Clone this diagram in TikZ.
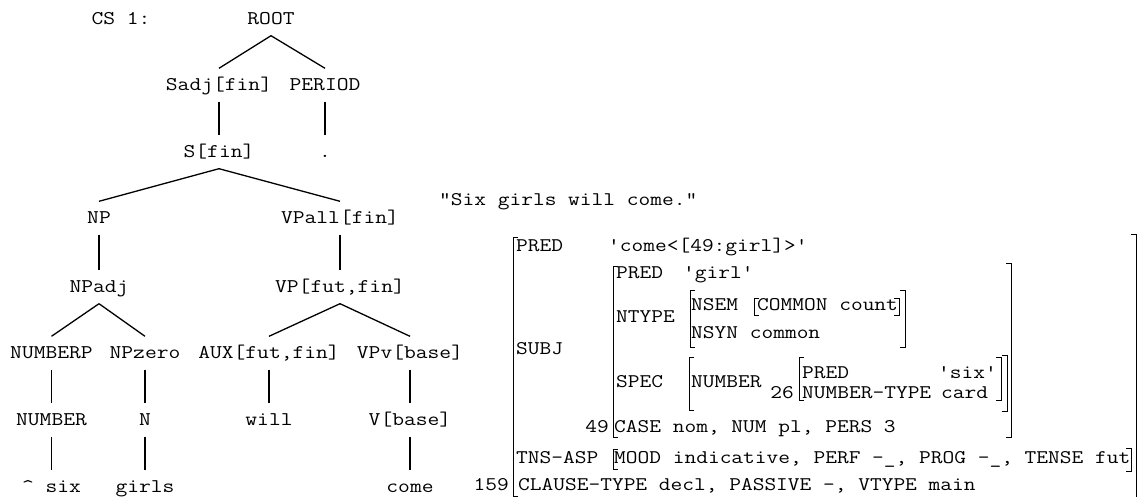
\documentclass[tikz,border=0pt]{standalone}
\usepackage{fontspec}
\setmonofont{Latin Modern Mono}[FakeStretch=1.18]
\begin{document}
\begin{tikzpicture}[x=1pt,y=-1pt,
    tree/.style={font=\ttfamily\fontsize{19.4}{24}\selectfont, inner sep=0pt,
      text height=11.8pt, text depth=0pt, minimum height=33pt},
    fs/.style={font=\ttfamily\fontsize{19.3}{24}\selectfont, inner sep=0pt,
      text height=11.8pt, text depth=0pt, anchor=west},
    brk/.style={line width=0.9pt}]
  \useasboundingbox (0,0) rectangle (1137,497);
  % c-structure
  \draw[every node/.style=tree]
    (121,19) node (cs){CS 1:}
    (271,19) node (root){ROOT}
    (219,85) node (sadj){Sadj[fin]}
    (325,85) node (period){PERIOD}
    (219,152) node (sfin){S[fin]}
    (325,152) node (dot){.}
    (99,218) node (np){NP}
    (340,218) node (vpall){VPall[fin]}
    (99,287) node (npadj){NPadj}
    (340,287) node (vp){VP[fut,fin]}
    (51.5,353) node (numberp){NUMBERP}
    (145,353) node (npzero){NPzero}
    (269,353) node (aux){AUX[fut,fin]}
    (410,353) node (vpv){VPv[base]}
    (51.5,420) node (number){NUMBER}
    (145,420) node (n){N}
    (269,420) node (will){will}
    (410,420) node (vbase){V[base]}
    (51.5,487) node (six){\textasciicircum{} six}
    (145,487) node (girls){girls}
    (410,487) node (come){come};
  \begin{scope}[-, line width=1.3pt]
    \draw (root.south) to (sadj.north);
    \draw (root.south) to (period.north);
    \draw (sadj.south) to (sfin.north);
    \draw (period.south) to (dot.north);
    \draw (sfin.south) to (np.north);
    \draw (sfin.south) to (vpall.north);
    \draw (np.south) to (npadj.north);
    \draw (vpall.south) to (vp.north);
    \draw (npadj.south) to (numberp.north);
    \draw (npadj.south) to (npzero.north);
    \draw (vp.south) to (aux.north);
    \draw (vp.south) to (vpv.north);
    \draw (numberp.south) to (number.north);
    \draw (npzero.south) to (n.north);
    \draw (aux.south) to (will.north);
    \draw (vpv.south) to (vbase.north);
    \draw (number.south) to (six.north);
    \draw (n.south) to (girls.north);
    \draw (vbase.south) to (come.north);
  \end{scope}
  % f-structure
  \draw[every node/.style=fs]
    (439,200) node (sent){"Six girls will come."}
    (516,246) node (pred){PRED}
    (608,246) node (predval){'come<[49:girl]>'}
    (516,349) node (subj){SUBJ}
    (616,273) node (spred){PRED}
    (683,273) node (spredval){'girl'}
    (616,317) node (ntype){NTYPE}
    (691,305) node (nsem){NSEM}
    (757,305) node (nsemval){COMMON count}
    (691,333) node (nsyn){NSYN common}
    (616,382) node (spec){SPEC}
    (691,382) node (fnumber){NUMBER}
    (794,393) node[anchor=east] (n26){26}
    (802,373) node (npred){PRED}
    (938,373) node (npredval){'six'}
    (802,393) node (ntypeattr){NUMBER-TYPE}
    (941,393) node (ntypeval){card}
    (609,427) node[anchor=east] (n49){49}
    (614,427) node (case){CASE nom, NUM pl, PERS 3}
    (516,458) node (tnsasp){TNS-ASP}
    (614,458) node (mood){MOOD indicative, PERF -\_, PROG -\_, TENSE fut}
    (509,485) node[anchor=east] (n159){159}
    (518,485) node (clause){CLAUSE-TYPE decl, PASSIVE -, VTYPE main};
  % brackets
  \draw[brk] (518,237) -| (513,496) -- (518,496);
  \draw[brk] (1131,234) -| (1136,497) -- (1131,497);
  \draw[brk] (618,266) -| (613,437) -- (618,437);
  \draw[brk] (1006,263) -| (1011,437) -- (1006,437);
  \draw[brk] (695,290) -| (690,347) -- (695,347);
  \draw[brk] (900,290) -| (905,347) -- (900,347);
  \draw[brk] (759,298) -| (754,315) -- (759,315);
  \draw[brk] (894,298) -| (899,315) -- (894,315);
  \draw[brk] (694,357) -| (689,410) -- (694,410);
  \draw[brk] (1002,355) -| (1007,411) -- (1002,411);
  \draw[brk] (804,357) -| (799,400) -- (804,400);
  \draw[brk] (996,357) -| (1001,400) -- (996,400);
  \draw[brk] (618,449) -| (613,469) -- (618,469);
  \draw[brk] (1126,448) -| (1131,471) -- (1126,471);
\end{tikzpicture}
\end{document}
